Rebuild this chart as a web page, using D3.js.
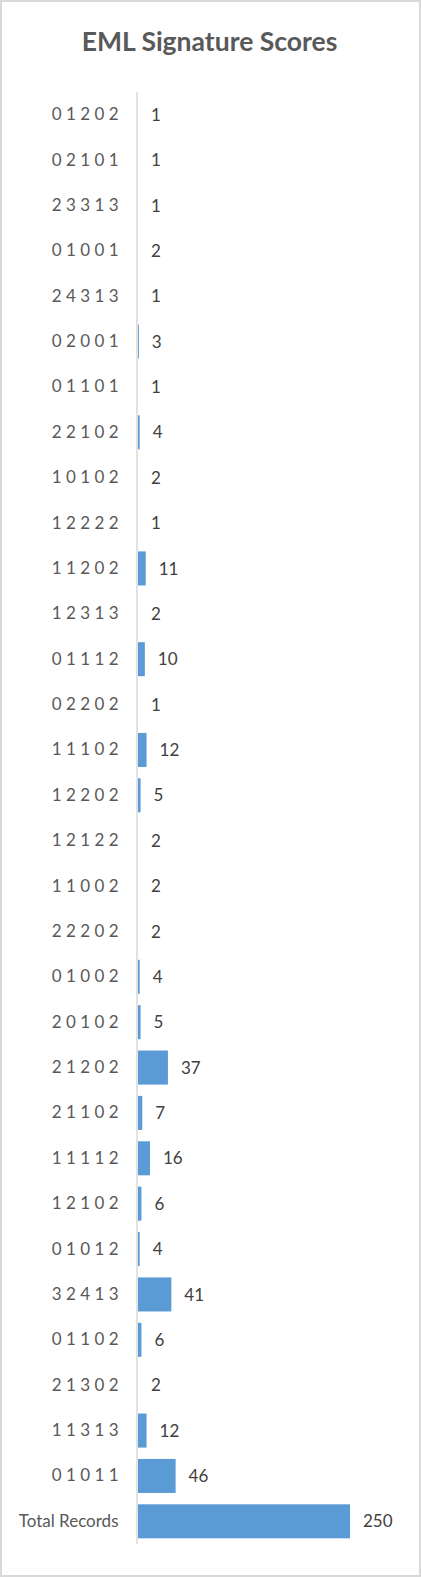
<!DOCTYPE html>
<html><head><meta charset="utf-8">
<script src="https://cdn.jsdelivr.net/npm/d3@7"></script>
<style>html,body{margin:0;padding:0;background:#fff;}svg{display:block;}</style>
</head><body>
<svg id="chart" width="421" height="1577"></svg>
<script>
const title = "EML Signature Scores";
const categories = ["0 1 2 0 2","0 2 1 0 1","2 3 3 1 3","0 1 0 0 1","2 4 3 1 3","0 2 0 0 1","0 1 1 0 1","2 2 1 0 2","1 0 1 0 2","1 2 2 2 2","1 1 2 0 2","1 2 3 1 3","0 1 1 1 2","0 2 2 0 2","1 1 1 0 2","1 2 2 0 2","1 2 1 2 2","1 1 0 0 2","2 2 2 0 2","0 1 0 0 2","2 0 1 0 2","2 1 2 0 2","2 1 1 0 2","1 1 1 1 2","1 2 1 0 2","0 1 0 1 2","3 2 4 1 3","0 1 1 0 2","2 1 3 0 2","1 1 3 1 3","0 1 0 1 1","Total Records"];
const values = [1,1,1,2,1,3,1,4,2,1,11,2,10,1,12,5,2,2,2,4,5,37,7,16,6,4,41,6,2,12,46,250];
const axisMin = 2, axisMax = 250;

const svg = d3.select("#chart");
const font = "Lato, 'Open Sans', sans-serif";

svg.append("rect").attr("x",1).attr("y",1).attr("width",419).attr("height",1575)
  .attr("fill","#fff").attr("stroke","#d9d9d9").attr("stroke-width",2);

svg.append("text").attr("x",209.5).attr("y",51).attr("text-anchor","middle")
  .attr("font-family",font).attr("font-weight","bold").attr("font-size",26.5)
  .attr("fill","#595959").text(title);

const y = d3.scaleBand().domain(categories).range([92,1544]).paddingInner(0.25).paddingOuter(0.125);
const x = d3.scaleLinear().domain([axisMin,axisMax]).range([138,350]);

const data = categories.map((c,i)=>({c, v: values[i]}));

svg.append("g").selectAll("rect").data(data).join("rect")
  .attr("x", x(axisMin)).attr("y", d=>y(d.c)).attr("width", d=>Math.max(0, x(d.v)-x(axisMin)))
  .attr("height", y.bandwidth()).attr("fill","#5b9bd5");

const yAxis = d3.axisLeft(y).tickSize(0).tickPadding(18.5);
const ga = svg.append("g").attr("transform",`translate(137,0)`).call(yAxis);
ga.select(".domain").attr("stroke","#d9d9d9").attr("stroke-width",1.5).attr("d",`M0,92V1544`);
ga.selectAll("text").attr("font-family",font).attr("font-size",17).attr("fill","#595959");

svg.append("g").selectAll("text").data(data).join("text")
  .attr("x", d=>Math.max(x(d.v), x(axisMin))+13).attr("y", d=>y(d.c)+y.bandwidth()/2).attr("dy","0.36em")
  .attr("font-family",font).attr("font-size",17).attr("fill","#404040")
  .text(d=>d.v);
</script>
</body></html>
